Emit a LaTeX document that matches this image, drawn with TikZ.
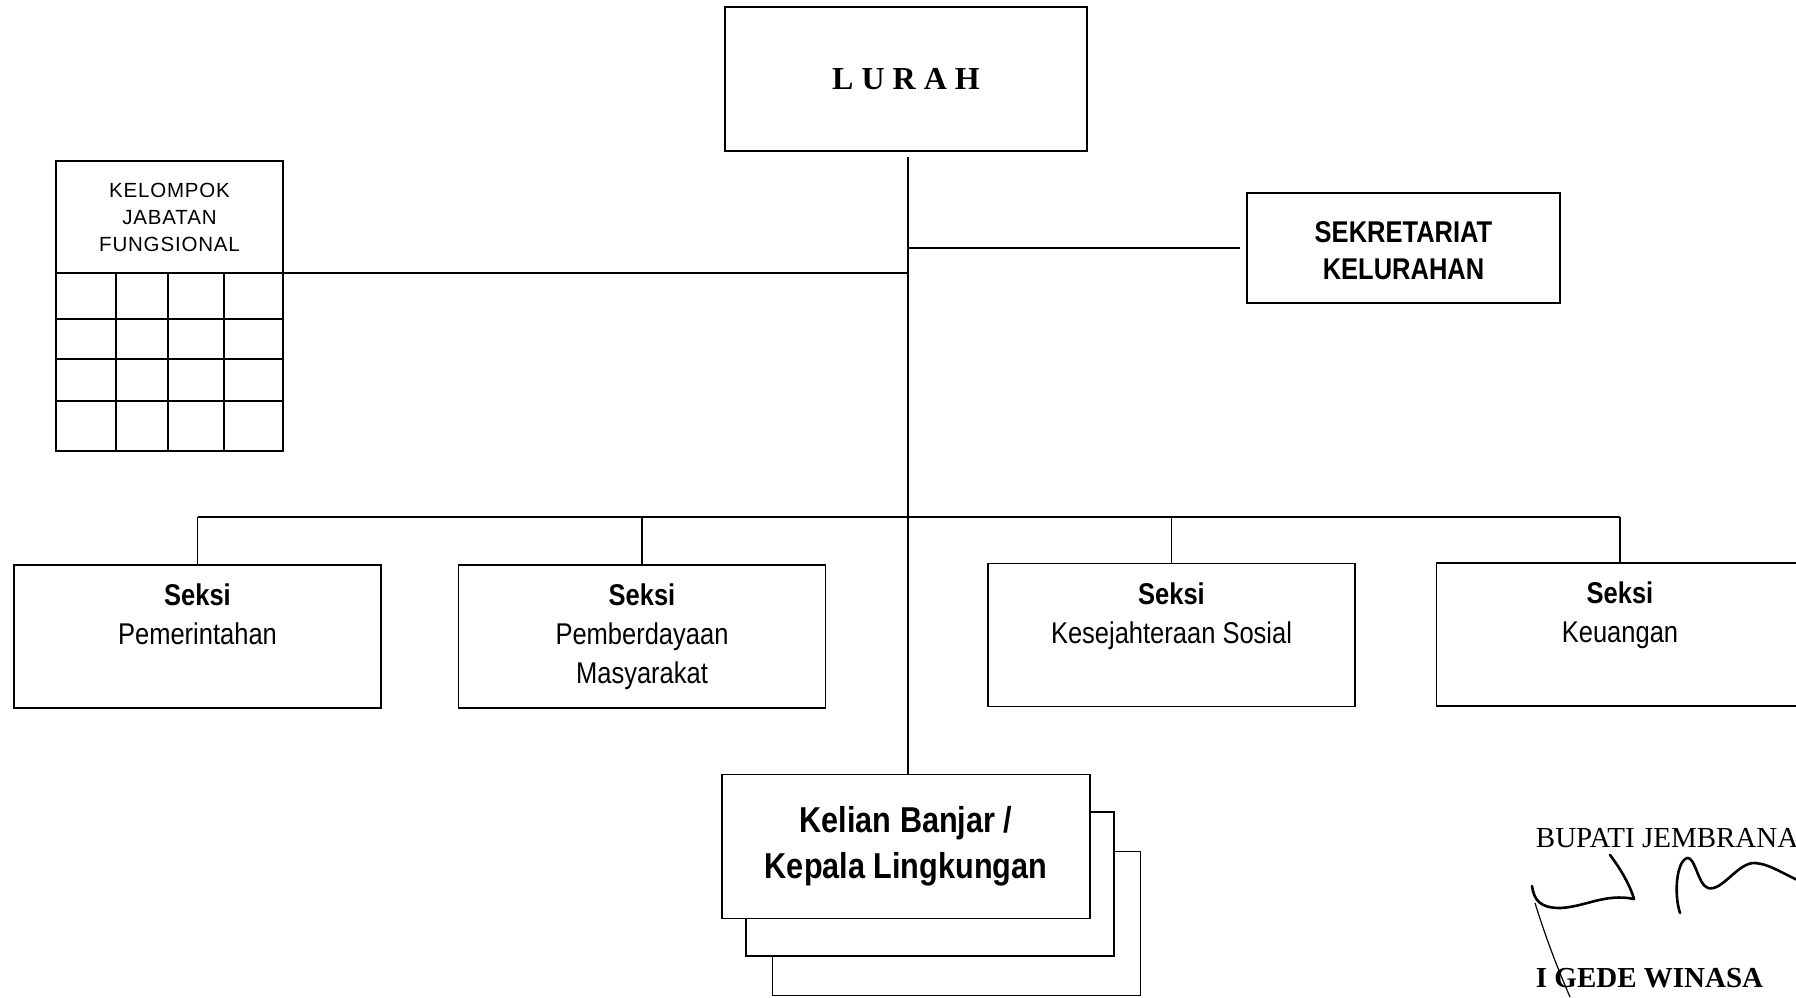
\documentclass[tikz,border=0pt]{standalone}
\usepackage{fontspec}
\setmainfont{Liberation Serif}
\newfontfamily\narrowsans[FakeStretch=0.85]{Liberation Sans}
\newfontfamily\spacedsans[LetterSpace=4]{Liberation Sans}
\usetikzlibrary{positioning, calc}

\begin{document}
\begin{tikzpicture}[
    x=1pt, y=-1pt, line width=1.8pt,
    box/.style={draw, rectangle, inner sep=0pt, outer sep=0pt, fill=white},
    seksibox/.style={box, minimum width=367pt, minimum height=143pt},
    seksitext/.style={anchor=north, align=center, inner sep=0pt, font=\narrowsans\fontsize{30}{39}\selectfont},
    kelianbox/.style={box, minimum width=368pt, minimum height=144pt},
    signstroke/.style={line width=2.6pt, line cap=round, line join=round}
]
\useasboundingbox (0,0) rectangle (1796,998);

\node[box, minimum width=362pt, minimum height=144pt, font=\bfseries\fontsize{32}{38}\selectfont] (Lurah) at (906,79) {L U R A H};
\node[box, minimum width=313pt, minimum height=110pt] (Sekretariat) at (1403.5,248) {};
\node[align=center, inner sep=0pt, font=\narrowsans\bfseries\fontsize{30}{37}\selectfont] (SekretariatText) at (1403.5,251) {SEKRETARIAT\\KELURAHAN};

\node[box, minimum width=227pt, minimum height=112pt, align=center, font=\spacedsans\fontsize{20.5}{27}\selectfont] (Kelompok) at (169.5,217) {KELOMPOK\\JABATAN\\FUNGSIONAL};
\node[box, minimum width=227pt, minimum height=178pt, anchor=north] (Grid) at (Kelompok.south) {};
\foreach \y in {319,359,401} \draw (56,\y) -- (283,\y);
\foreach \x in {116,168,224} \draw (\x,273) -- (\x,451);

\node[seksibox] (Seksi1) at (197.5,636.5) {};
\node[seksibox] (Seksi2) at (642,636.5) {};
\node[seksibox] (Seksi3) at (1171.5,635) {};
\node[seksibox] (Seksi4) at (1620,634.5) {};
\node[seksitext] (Pemerintahan) at ([yshift=-18pt]Seksi1.north) {\bfseries Seksi\\Pemerintahan};
\node[seksitext] (Pemberdayaan) at ([yshift=-18pt]Seksi2.north) {\bfseries Seksi\\Pemberdayaan\\Masyarakat};
\node[seksitext] (Kesejahteraan) at ([yshift=-18pt]Seksi3.north) {\bfseries Seksi\\Kesejahteraan Sosial};
\node[seksitext] (Keuangan) at ([yshift=-18pt]Seksi4.north) {\bfseries Seksi\\Keuangan};

\node[kelianbox] (KelianC) at (956.5,923.5) {};
\node[kelianbox] (KelianB) at (930,884) {};
\node[kelianbox, align=center, font=\narrowsans\bfseries\fontsize{36}{46}\selectfont] (Kelian) at (906,846.5) {Kelian Banjar /\\Kepala Lingkungan};

\coordinate (Top) at (908,157);
\coordinate (Bus) at (908,517);
\draw (Top) -- (Top |- Kelian.north);
\draw (Top |- Sekretariat) -- ([xshift=-7pt]Sekretariat.west);
\draw (Kelompok.south east) -- (Top |- Kelompok.south east);
\draw (Seksi1.north |- Bus) -- (Seksi4.north |- Bus);
\foreach \s in {Seksi1, Seksi2, Seksi3, Seksi4}
    \draw (\s.north) -- (\s.north |- Bus);

\node[anchor=base west, inner sep=0pt, font=\fontsize{29}{34}\selectfont] (Bupati) at (1535,847) {BUPATI JEMBRANA};
\node[anchor=base west, inner sep=0pt, font=\bfseries\fontsize{29}{34}\selectfont] (Nama) at (1535,987) {I GEDE WINASA};

\draw[signstroke] (1532,886) .. controls (1534,900) and (1540,908) .. (1560,908)
    .. controls (1585,907) and (1605,893) .. (1634,899)
    .. controls (1630,885) and (1620,868) .. (1610,855);
\draw[line width=1.2pt] (1535,903) .. controls (1545,935) and (1556,965) .. (1570,997);
\draw[signstroke] (1680,913) .. controls (1674,895) and (1676,862) .. (1687,858)
    .. controls (1695,856) and (1698,885) .. (1708,888)
    .. controls (1722,892) and (1738,862) .. (1755,863)
    .. controls (1770,864) and (1785,875) .. (1800,881);
\end{tikzpicture}
\end{document}
